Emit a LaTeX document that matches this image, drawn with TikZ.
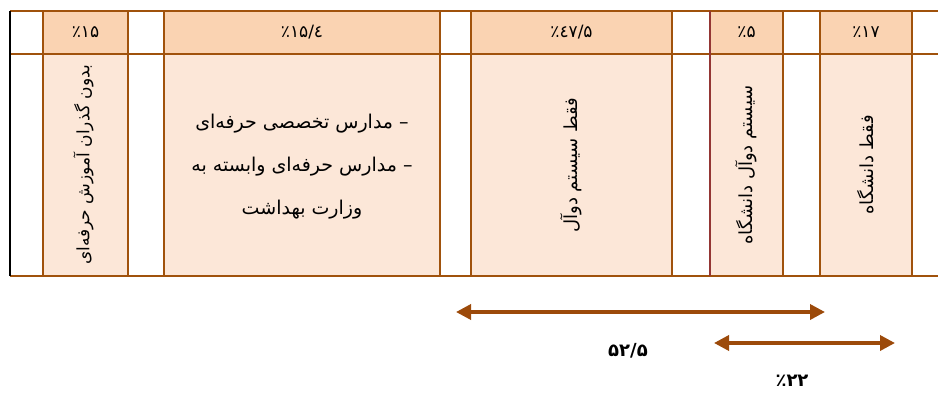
\documentclass[tikz,border=0pt]{standalone}
\usepackage{fontspec}
\usepackage{tikz}
\usetikzlibrary{positioning}
\usetikzlibrary{arrows.meta}
\TeXXeTstate=1
\newfontfamily\arabicfont[Script=Arabic]{DejaVu Sans}
\definecolor{rulebrown}{HTML}{A0520C}
\definecolor{arrowbrown}{HTML}{9C4A0A}
\definecolor{headpeach}{HTML}{FAD3B2}
\definecolor{bodypeach}{HTML}{FCE7D8}
\definecolor{sidered}{HTML}{943634}
\newcommand{\ltr}[1]{\hbox{#1}} % tal i faste stykker
\tikzset{
	cell/.style={ % faelles for alle celler
			draw=rulebrown,
			line width=1.6pt,
			outer sep=0pt,
			inner sep=0pt
		},
	headcell/.style={cell, fill=headpeach, minimum height=43pt,
			font=\arabicfont\fontsize{17}{19}\selectfont},
	bodycell/.style={cell, fill=bodypeach, minimum height=222pt},
	sidetext/.style={rotate=90, font=\arabicfont\fontsize{18}{20}\selectfont},
	listtext/.style={align=center, font=\arabicfont\fontsize{19}{43}\selectfont},
	tablerule/.style={draw=rulebrown, line width=1.6pt},
	spanarrow/.style={ % dobbeltpil under tabellen
			draw=arrowbrown,
			line width=3.5pt,
			{Triangle[length=15pt,width=15pt]}-{Triangle[length=15pt,width=15pt]}
		},
	spanlabel/.style={font=\arabicfont\bfseries\fontsize{18}{20}\selectfont}
}
\begin{document}
\begin{tikzpicture}[x=1pt, y=-1pt]
	\useasboundingbox (0,0) rectangle (938,392);
	\node[headcell, minimum width=85pt] (h1) at (85.5,32.5) {\ltr{٪۱۵}};
	\node[bodycell, minimum width=85pt, below=0pt of h1] (b1) {};
	\node[headcell, minimum width=276pt] (h2) at (302,32.5) {\ltr{٪۱۵}\ltr{/}\ltr{٤}};
	\node[bodycell, minimum width=276pt, below=0pt of h2] (b2) {};
	\node[headcell, minimum width=201pt] (h3) at (571.5,32.5) {\ltr{٪}\ltr{٤}\ltr{۷/۵}};
	\node[bodycell, minimum width=201pt, below=0pt of h3] (b3) {};
	\node[headcell, minimum width=73pt] (h4) at (746.5,32.5) {\ltr{٪۵}};
	\node[bodycell, minimum width=73pt, below=0pt of h4] (b4) {};
	\node[headcell, minimum width=92pt] (h5) at (866,32.5) {\ltr{٪۱۷}};
	\node[bodycell, minimum width=92pt, below=0pt of h5] (b5) {};

	\node[sidetext, font=\arabicfont\fontsize{17}{19}\selectfont] (t1) at ([xshift=-2pt]b1) {\beginR بدون گذران آموزش حرفه‌ای\endR};
	\node[listtext] (t2) at ([yshift=-2pt]b2) {\beginR – مدارس تخصصی حرفه‌ای\endR\\
			\beginR – مدارس حرفه‌ای وابسته به\endR\\
			\beginR وزارت بهداشت\endR};
	\node[sidetext] (t3) at (b3) {\beginR فقط سیستم دوآل\endR};
	\node[sidetext] (t4) at (b4) {\beginR سیستم دوآل دانشگاه\endR};
	\node[sidetext] (t5) at (b5) {\beginR فقط دانشگاه\endR};

	% linjer hen over hele tabellen
	\coordinate (topleft) at (10,11);
	\coordinate (midleft) at (10,54);
	\coordinate (lowleft) at (10,276);
	\coordinate (topright) at (938,11);
	\coordinate (midright) at (938,54);
	\coordinate (lowright) at (938,276);
	\draw[tablerule] (topleft) -- (topright);
	\draw[tablerule] (midleft) -- (midright);
	\draw[tablerule] (lowleft) -- (lowright);
	\draw[line width=2.4pt] (topleft) -- (lowleft);
	\draw[sidered, line width=1.6pt] (h4.north west) -- (b4.south west);

	\coordinate (dualL) at (456,312);
	\coordinate (dualR) at (825,312);
	\coordinate (uniL) at (714,343);
	\coordinate (uniR) at (895,343);
	\draw[spanarrow] (dualL) -- (dualR);
	\draw[spanarrow] (uniL) -- (uniR);
	\node[spanlabel] (dualsum) at (628,351) {\ltr{۵۲/۵}};
	\node[spanlabel] (unisum) at (792,381) {\ltr{٪۲۲}};
\end{tikzpicture}
\end{document}
